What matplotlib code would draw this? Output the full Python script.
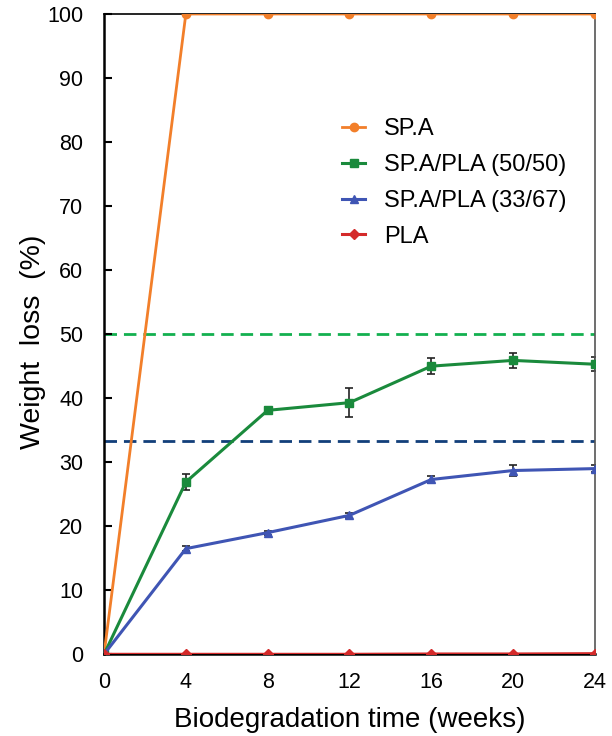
import matplotlib.pyplot as plt

plt.rcParams["font.family"] = ["Liberation Sans", "DejaVu Sans"]

weeks = [0, 4, 8, 12, 16, 20, 24]
spa = [0, 100, 100, 100, 100, 100, 100]
blend_50 = [0, 26.9, 38.1, 39.3, 45.0, 45.9, 45.3]
blend_50_err = [0, 1.3, 0.5, 2.3, 1.3, 1.2, 1.1]
blend_33 = [0, 16.5, 19.0, 21.7, 27.3, 28.7, 29.0]
blend_33_err = [0, 0.4, 0.3, 0.4, 0.5, 0.8, 0.6]
pla = [0, 0, 0, 0, 0.05, 0.05, 0.1]

ref_50 = 50
ref_33 = 33.3

fig = plt.figure(figsize=(6.12, 7.36), dpi=100)
ax = fig.add_axes([0.170, 0.111, 0.802, 0.870])

ax.axhline(ref_50, color="#13b04f", linestyle=(0, (4.5, 2.5)), linewidth=2, zorder=1)
ax.axhline(ref_33, color="#123f7a", linestyle=(0, (4.5, 2.5)), linewidth=2, zorder=1)

# error bars first, kept out of the legend
for ys, err in [(blend_50, blend_50_err), (blend_33, blend_33_err)]:
    ax.errorbar(weeks, ys, yerr=err, fmt="none", ecolor="#222222", elinewidth=1.2,
                capsize=3, capthick=1.2, zorder=2)

ax.plot(weeks, spa, color="#f27f2a", marker="o", markersize=6, linewidth=2,
        label="SP.A", zorder=3)
ax.plot(weeks, blend_50, color="#1a8a3c", marker="s", markersize=5.5, linewidth=2.2,
        label="SP.A/PLA (50/50)", zorder=3)
ax.plot(weeks, blend_33, color="#3f55b4", marker="^", markersize=6, linewidth=2.2,
        label="SP.A/PLA (33/67)", zorder=3)
ax.plot(weeks, pla, color="#d42a2a", marker="D", markersize=5.5, linewidth=2.2,
        label="PLA", zorder=4)

ax.set_xlim(0, 24)
ax.set_ylim(0, 100)
ax.set_xticks(weeks)
ax.set_yticks(range(0, 101, 10))
ax.tick_params(axis="y", direction="in", length=6, width=1.5, labelsize=15.5, pad=15)
ax.tick_params(axis="x", length=0, labelsize=15.5, pad=13)
for side in ["left", "bottom"]:
    ax.spines[side].set_linewidth(1.8)
for side in ["top", "right"]:
    ax.spines[side].set_linewidth(1.2)
ax.spines["right"].set_color("#555555")
ax.set_xlabel("Biodegradation time (weeks)", fontsize=20, labelpad=10)
ax.set_ylabel("Weight  loss  (%)", fontsize=20.5)
ax.yaxis.set_label_coords(-0.118, 0.488)

ax.legend(loc="upper left", bbox_to_anchor=(0.441, 0.870), frameon=False,
          fontsize=17, handlelength=1.0, labelspacing=0.58, handletextpad=0.8)

fig.savefig("out.png", dpi=100)
